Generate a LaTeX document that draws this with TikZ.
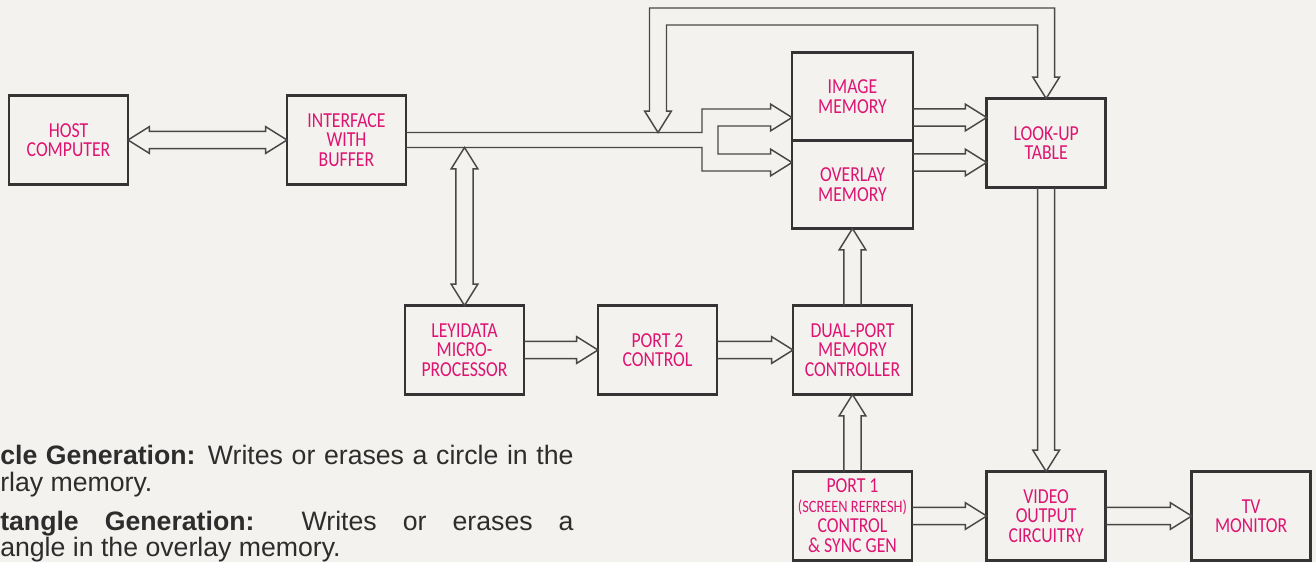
\documentclass[tikz,border=0pt]{standalone}
\usepackage{fontspec}
\setmainfont{Liberation Sans}
\newfontfamily\handfont[FakeStretch=0.83]{Carlito}
\usepackage{tikz}
\usetikzlibrary{positioning, calc}
\definecolor{paper}{RGB}{243, 242, 238}
\definecolor{inkgray}{RGB}{52, 52, 52}
\definecolor{busgray}{RGB}{72, 72, 72}
\definecolor{labelpink}{RGB}{222, 20, 114}
\definecolor{printgray}{RGB}{45, 45, 45}

% hollow bus arrow, head at #2
\newcommand{\fatarrow}[2]{%
  \coordinate (fs) at (#1); \coordinate (ft) at (#2);
  \coordinate (fc) at ($(ft)!16pt!(fs)$);
  \draw[bus] ($(fs)!6.4pt!90:(ft)$) -- ($(fc)!6.4pt!-90:(fs)$) -- ($(fc)!10pt!-90:(fs)$) -- (ft)
    -- ($(fc)!10pt!90:(fs)$) -- ($(fc)!6.4pt!90:(fs)$) -- ($(fs)!6.4pt!-90:(ft)$);}
% hollow bus arrow, heads at both ends
\newcommand{\fatboth}[2]{%
  \coordinate (fs) at (#1); \coordinate (ft) at (#2);
  \coordinate (fa) at ($(fs)!16pt!(ft)$); \coordinate (fb) at ($(ft)!16pt!(fs)$);
  \draw[bus] (fs) -- ($(fa)!10pt!90:(ft)$) -- ($(fa)!6.4pt!90:(ft)$) -- ($(fb)!6.4pt!-90:(fs)$)
    -- ($(fb)!10pt!-90:(fs)$) -- (ft) -- ($(fb)!10pt!90:(fs)$) -- ($(fb)!6.4pt!90:(fs)$)
    -- ($(fa)!6.4pt!-90:(ft)$) -- ($(fa)!10pt!-90:(ft)$) -- cycle;}

\begin{document}
\begin{tikzpicture}[
    x=0.75pt, y=-0.75pt,
    box/.style={rectangle, draw=inkgray, fill=paper, line width=1.8pt, outer sep=0pt, align=center, minimum width=89.25pt, minimum height=66.75pt, text=labelpink, font=\handfont\fontsize{16}{14.5}\selectfont},
    membox/.style={box, minimum width=90.75pt, minimum height=66pt},
    bus/.style={draw=busgray, line width=1.1pt, line join=miter},
    printtext/.style={anchor=base west, inner sep=0pt, text=printgray, font=\fontsize{20}{24}\selectfont}
]
    \useasboundingbox (0,0) rectangle (1316,562);
    \fill[paper] (0,0) rectangle (1316,562);

    \node[box] (host) at (68.5,140) {HOST\\COMPUTER};
    \node[box, right=119.25pt of host] (iface) {INTERFACE\\WITH\\BUFFER};

    \node[membox] (imgmem) at (852.5,96.5) {IMAGE\\MEMORY};
    \node[membox, below=0pt of imgmem] (ovlmem) {OVERLAY\\MEMORY};
    \node[box, below=57.75pt of ovlmem] (dual) {DUAL-PORT\\MEMORY\\CONTROLLER};
    \node[box, below=57.75pt of dual, font=\handfont\fontsize{16}{15}\selectfont] (port1) {PORT 1\\{\fontsize{13}{15}\selectfont (SCREEN REFRESH)}\\CONTROL\\\& SYNC GEN};
    \node[box, left=57pt of dual] (port2) {PORT 2\\CONTROL};
    \node[box, left=55.5pt of port2] (leyi) {LEYIDATA\\MICRO-\\PROCESSOR};
    \node[box, right=56pt of port1] (video) {VIDEO\\OUTPUT\\CIRCUITRY};
    \node[box, right=64.5pt of video] (tv) {TV\\MONITOR};
    \node[box, above=213pt of video] (lut) {LOOK-UP\\TABLE};

    % data bus from the interface
    \coordinate (bust) at ($(iface.east)+(0,-7.5)$);
    \coordinate (busb) at ($(iface.east)+(0,7.5)$);
    \coordinate (imgin) at ($(imgmem.south west)+(0,-23)$);
    \coordinate (ovlin) at ($(imgmem.south west)+(0,22)$);
    \draw[bus] (bust) -| ($(imgin)+(-90,-8.5)$) -- ($(imgin)+(-21.3,-8.5)$) -- ($(imgin)+(-21.3,-13.3)$)
        -- (imgin) -- ($(imgin)+(-21.3,13.3)$) -- ($(imgin)+(-21.3,8.5)$) -- ($(imgin)+(-74,8.5)$)
        -- ($(ovlin)+(-74,-8.5)$) -- ($(ovlin)+(-21.3,-8.5)$) -- ($(ovlin)+(-21.3,-13.3)$)
        -- (ovlin) -- ($(ovlin)+(-21.3,13.3)$) -- ($(ovlin)+(-21.3,8.5)$) -- ($(ovlin)+(-90,8.5)$) |- (busb);

    % loop from the bus to the look-up table
    \coordinate (fbtip) at ($(bust -| imgmem.west)+(-134,0)$);
    \coordinate (fbtop) at ($(imgmem.north)+(0,-36)$);
    \coordinate (fbl) at (fbtip |- fbtop);
    \coordinate (fbr) at (lut.north |- fbtop);
    \draw[bus] (fbtip) -- ++(-13.3,-21.3) -- ++(4.8,0) -- ($(fbl)+(-8.5,-8.5)$) -- ($(fbr)+(8.5,-8.5)$)
        -- ($(lut.north)+(8.5,-21.3)$) -- ++(4.8,0) -- (lut.north) -- ++(-13.3,-21.3) -- ++(4.8,0)
        -- ($(fbr)+(-8.5,8.5)$) -- ($(fbl)+(8.5,8.5)$) -- ($(fbtip)+(8.5,-21.3)$) -- ++(4.8,0) -- cycle;

    \fatboth{host.east}{iface.west}
    \fatboth{leyi.north |- busb}{leyi.north}
    \fatarrow{leyi.east}{port2.west}
    \fatarrow{port2.east}{dual.west}
    \fatarrow{dual.north}{ovlmem.south}
    \fatarrow{port1.north}{dual.south}
    \fatarrow{imgmem.east |- imgin}{lut.west |- imgin}
    \fatarrow{ovlmem.east |- ovlin}{lut.west |- ovlin}
    \fatarrow{lut.south}{video.north}
    \fatarrow{port1.east}{video.west}
    \fatarrow{video.east}{tv.west}

    \node[printtext] (circ1) at (0,464) {\makebox[430pt][s]{\textbf{cle Generation:} Writes or erases a circle in the}};
    \node[printtext] (circ2) at (0,491) {rlay memory.};
    \node[printtext] (rect1) at (0,530) {\makebox[430pt][s]{\textbf{tangle Generation:} Writes or erases a}};
    \node[printtext] (rect2) at (0,556) {angle in the overlay memory.};
\end{tikzpicture}
\end{document}
